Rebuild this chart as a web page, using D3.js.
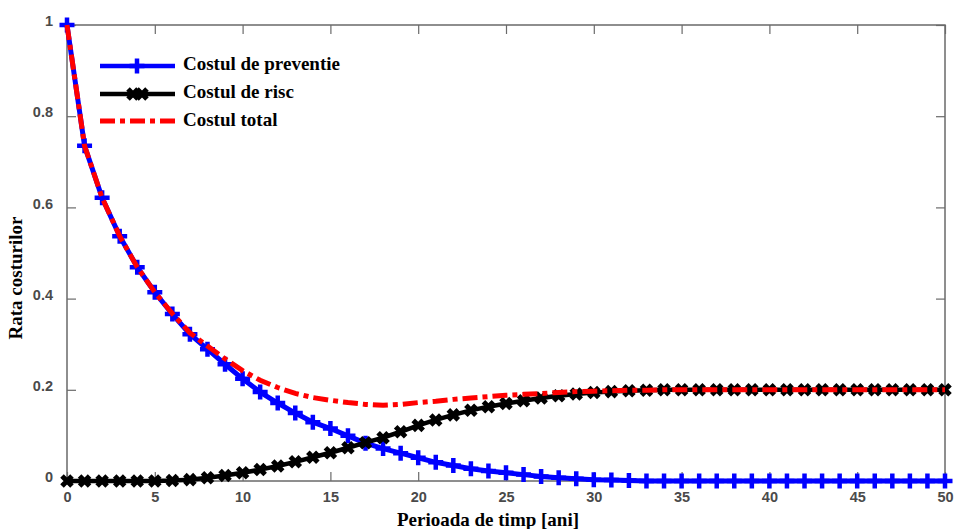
<!DOCTYPE html>
<html>
<head>
<meta charset="utf-8">
<script src="https://cdn.jsdelivr.net/npm/d3@7"></script>
<style>
	body { margin: 0; background: #fff; }
</style>
</head>
<body>
<div id="container"></div>
<script>
// ani 0..50
var years = d3.range(0, 51);

var preventie = [1.000, 0.735, 0.621, 0.537, 0.469, 0.414, 0.366, 0.322, 0.289, 0.256,
	0.224, 0.195, 0.171, 0.149, 0.129, 0.115, 0.099, 0.083, 0.071, 0.061,
	0.051, 0.041, 0.034, 0.027, 0.022, 0.018, 0.014, 0.010, 0.007, 0.005,
	0.003, 0.002, 0.001, 0, 0, 0, 0, 0, 0, 0,
	0, 0, 0, 0, 0, 0, 0, 0, 0, 0, 0];

var risc = [0, 0, 0, 0, 0, 0, 0.001, 0.003, 0.007, 0.012,
	0.018, 0.025, 0.033, 0.042, 0.052, 0.062, 0.073, 0.084, 0.095, 0.108,
	0.122, 0.134, 0.145, 0.155, 0.163, 0.170, 0.176, 0.182, 0.187, 0.191,
	0.194, 0.196, 0.198, 0.199, 0.2, 0.2, 0.2, 0.2, 0.2, 0.2,
	0.2, 0.2, 0.2, 0.2, 0.2, 0.2, 0.2, 0.2, 0.2, 0.2, 0.2];

var total = [1.000, 0.735, 0.621, 0.537, 0.469, 0.414, 0.367, 0.325, 0.296, 0.268,
	0.242, 0.221, 0.205, 0.192, 0.183, 0.177, 0.172, 0.168, 0.166, 0.168,
	0.172, 0.175, 0.179, 0.182, 0.185, 0.188, 0.190, 0.192, 0.194, 0.196,
	0.197, 0.198, 0.199, 0.199, 0.2, 0.2, 0.2, 0.2, 0.2, 0.2,
	0.2, 0.2, 0.2, 0.2, 0.2, 0.2, 0.2, 0.2, 0.2, 0.2, 0.2];

var xTicks = [0, 5, 10, 15, 20, 25, 30, 35, 40, 45, 50];
var yTicks = [0, 0.2, 0.4, 0.6, 0.8, 1];
var legendLabels = ["Costul de preventie", "Costul de risc", "Costul total"];

var width = 955,
	height = 529,
	plotLeft = 67,
	plotRight = 945,
	plotTop = 25,
	plotBottom = 481;

var xScale = d3.scaleLinear().domain([0, 50]).range([plotLeft, plotRight]);
var yScale = d3.scaleLinear().domain([0, 1]).range([plotBottom, plotTop]);

var svg = d3.select("#container")
	.append("svg")
		.attr("width", width)
		.attr("height", height)
		.style("display", "block");

var axisColour = "#6a6a6a";

// box
svg.append("rect")
	.attr("x", plotLeft).attr("y", plotTop)
	.attr("width", plotRight - plotLeft).attr("height", plotBottom - plotTop)
	.attr("fill", "none")
	.attr("stroke", axisColour)
	.attr("stroke-width", 1.5);

function styleAxis(g) {
	g.select(".domain").remove();
	g.selectAll(".tick line").attr("stroke", axisColour).attr("stroke-width", 1.2);
	g.selectAll(".tick text")
		.attr("fill", "#4a4a4a")
		.style("font-family", "'Liberation Sans', Arial, sans-serif")
		.style("font-size", "14.5px")
		.style("font-weight", "bold");
}

var fmt = d3.format("~g");

svg.append("g")
	.attr("transform", "translate(0," + plotBottom + ")")
	.call(d3.axisBottom(xScale).tickValues(xTicks).tickSizeInner(-9).tickSizeOuter(0).tickPadding(11).tickFormat(fmt))
	.call(styleAxis);

svg.append("g")
	.attr("transform", "translate(0," + plotTop + ")")
	.call(d3.axisTop(xScale).tickValues(xTicks).tickSizeInner(-9).tickSizeOuter(0).tickFormat(""))
	.call(styleAxis);

var yAxisG = svg.append("g")
	.attr("transform", "translate(" + plotLeft + ",0)")
	.call(d3.axisLeft(yScale).tickValues(yTicks).tickSizeInner(-9).tickSizeOuter(0).tickPadding(14).tickFormat(fmt))
	.call(styleAxis);
yAxisG.selectAll(".tick text").attr("y", -4);

svg.append("g")
	.attr("transform", "translate(" + plotRight + ",0)")
	.call(d3.axisRight(yScale).tickValues(yTicks).tickSizeInner(-9).tickSizeOuter(0).tickFormat(""))
	.call(styleAxis);

// axis titles
var serif = "'Liberation Serif', 'Times New Roman', serif";
svg.append("text")
	.attr("x", 488).attr("y", 526)
	.attr("text-anchor", "middle")
	.style("font-family", serif).style("font-size", "19px").style("font-weight", "bold")
	.text("Perioada de timp [ani]");

svg.append("text")
	.attr("transform", "translate(22,278) rotate(-90)")
	.attr("text-anchor", "middle")
	.style("font-family", serif).style("font-size", "19px").style("font-weight", "bold")
	.text("Rata costurilor");

// markers
function plusPath(s) {
	return "M" + (-s) + ",0H" + s + "M0," + (-s) + "V" + s;
}
function crossPath(s) {
	return "M" + (-s) + "," + (-s) + "L" + s + "," + s + "M" + (-s) + "," + s + "L" + s + "," + (-s);
}

var line = d3.line()
	.x(function(d, i){ return xScale(years[i]); })
	.y(function(d){ return yScale(d); });

// preventie
svg.append("path")
	.datum(preventie)
	.attr("d", line)
	.attr("fill", "none")
	.attr("stroke", "#0000ff")
	.attr("stroke-width", 5);
svg.append("g").selectAll("path")
	.data(preventie)
	.enter().append("path")
		.attr("transform", function(d, i){ return "translate(" + xScale(years[i]) + "," + yScale(d) + ")"; })
		.attr("d", plusPath(7.5))
		.attr("stroke", "#0000ff")
		.attr("stroke-width", 4.5)
		.attr("fill", "none");

// risc
svg.append("path")
	.datum(risc)
	.attr("d", line)
	.attr("fill", "none")
	.attr("stroke", "#000")
	.attr("stroke-width", 4.5);
svg.append("g").selectAll("path")
	.data(risc)
	.enter().append("path")
		.attr("transform", function(d, i){ return "translate(" + xScale(years[i]) + "," + yScale(d) + ")"; })
		.attr("d", crossPath(5))
		.attr("stroke", "#000")
		.attr("stroke-width", 5)
		.attr("fill", "none");

// total
svg.append("path")
	.datum(total)
	.attr("d", line)
	.attr("fill", "none")
	.attr("stroke", "#ff0000")
	.attr("stroke-width", 5)
	.attr("stroke-dasharray", "15,5,5,5");

// legend
var legendColours = ["#0000ff", "#000", "#ff0000"];
var legend = svg.append("g");
legendLabels.forEach(function(lbl, i){
	var ly = [66, 94, 121][i];
	var row = legend.append("g");
	row.append("line")
		.attr("x1", 100).attr("x2", 175)
		.attr("y1", ly).attr("y2", ly)
		.attr("stroke", legendColours[i])
		.attr("stroke-width", i == 2 ? 5 : 4.5)
		.attr("stroke-dasharray", i == 2 ? "15,5,5,5" : null);
	if (i == 0) {
		row.append("path")
			.attr("transform", "translate(137," + ly + ")")
			.attr("d", plusPath(7.5))
			.attr("stroke", "#0000ff").attr("stroke-width", 4.5);
	}
	if (i == 1) {
		[133, 142].forEach(function(mx){
			row.append("path")
				.attr("transform", "translate(" + mx + "," + ly + ")")
				.attr("d", crossPath(5))
				.attr("stroke", "#000").attr("stroke-width", 5);
		});
	}
	row.append("text")
		.attr("x", 183).attr("y", ly + 4 + (i == 2 ? 1 : 0))
		.style("font-family", serif).style("font-size", "19px").style("font-weight", "bold")
		.text(lbl);
});
</script>
</body>
</html>
